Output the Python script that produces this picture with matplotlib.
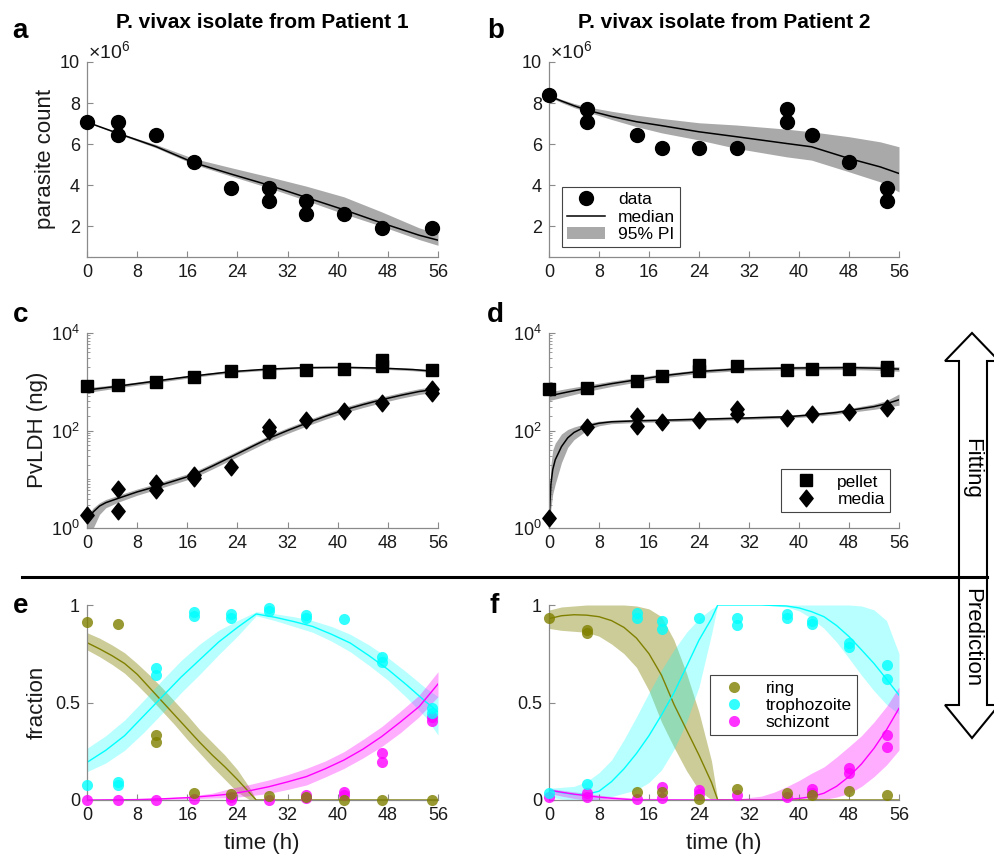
import matplotlib
matplotlib.use("Agg")
import matplotlib.pyplot as plt
from matplotlib.lines import Line2D
from matplotlib.patches import Patch, Polygon
from matplotlib.path import Path
import matplotlib.ticker as mticker
import numpy as np

plt.rcParams['font.family'] = ['Liberation Sans', 'DejaVu Sans']
plt.rcParams['mathtext.fontset'] = 'custom'
plt.rcParams['mathtext.rm'] = 'Liberation Sans'
plt.rcParams['mathtext.it'] = 'Liberation Sans:italic'
plt.rcParams['mathtext.bf'] = 'Liberation Sans:bold'

# ---------------- data ----------------
x_ticks = [0, 8, 16, 24, 32, 40, 48, 56]

# panel a (parasite count, x1e6)
a_t = [0, 5, 5, 11, 17, 23, 29, 29, 35, 35, 41, 47, 55]
a_y = [7.08, 7.08, 6.43, 6.43, 5.13, 3.86, 3.86, 3.21, 3.21, 2.6, 2.6, 1.92, 1.92]
a_fit_t = [0, 5, 11, 17, 23, 29, 35, 41, 47, 53, 56]
a_med = [7.07, 6.52, 5.88, 5.1, 4.54, 4.0, 3.4, 2.8, 2.16, 1.56, 1.32]
a_hi = [7.08, 6.56, 5.98, 5.3, 4.85, 4.41, 3.95, 3.43, 2.7, 1.92, 1.64]
a_lo = [7.05, 6.48, 5.82, 5.02, 4.44, 3.87, 3.25, 2.6, 2.0, 1.35, 1.07]

# panel b
b_t = [0, 6, 6, 14, 18, 24, 30, 38, 38, 42, 48, 54, 54]
b_y = [8.38, 7.73, 7.08, 6.43, 5.81, 5.81, 5.81, 7.73, 7.08, 6.43, 5.13, 3.86, 3.21]
b_fit_t = [0, 2, 4, 6, 10, 14, 18, 24, 30, 38, 42, 48, 53, 56]
b_med = [8.35, 8.1, 7.87, 7.66, 7.35, 7.09, 6.9, 6.6, 6.36, 6.03, 5.87, 5.3, 4.89, 4.57]
b_hi = [8.4, 8.18, 7.98, 7.82, 7.6, 7.41, 7.25, 7.04, 6.93, 6.73, 6.6, 6.36, 6.11, 5.87]
b_lo = [8.3, 8.02, 7.78, 7.58, 7.2, 6.85, 6.55, 6.2, 5.79, 5.38, 5.22, 4.65, 4.16, 3.67]

# panel c (PvLDH, ng)
c_pel_t = [0, 5, 11, 17, 23, 29, 29, 35, 41, 47, 47, 55]
c_pel_y = [820, 860, 1010, 1240, 1670, 1700, 1560, 1750, 1860, 2800, 2150, 1720]
c_med_t = [0, 5, 5, 11, 11, 17, 17, 23, 29, 29, 35, 41, 47, 55, 55]
c_med_y = [1.85, 6.2, 2.27, 8.5, 6.0, 12.3, 10.5, 18.2, 120, 98, 164, 250, 372, 700, 600]
c_pel_ft = [0, 5, 11, 17, 23, 29, 35, 41, 47, 52, 56]
c_pel_med = [676, 813, 1035, 1312, 1611, 1820, 1950, 1977, 1905, 1780, 1622]
c_pel_hi = [760, 880, 1110, 1400, 1700, 1900, 2030, 2060, 2000, 1880, 1720]
c_pel_lo = [600, 750, 960, 1230, 1520, 1730, 1870, 1890, 1810, 1680, 1520]
c_mft = [0, 1, 2, 3, 5, 8, 11, 14, 17, 20, 23, 26, 29, 32, 35, 38, 41, 44, 47, 50, 53, 56]
c_mmed = [1.45, 2.14, 2.82, 3.31, 4.07, 5.5, 7.08, 9.33, 12.3, 18.6, 28.8, 44.7, 69.2, 100,
          141, 195, 263, 339, 427, 525, 631, 708]
c_mhi = [1.75, 2.6, 3.3, 3.85, 4.7, 6.3, 8.1, 10.7, 14.1, 21.4, 33, 51, 79, 114, 161, 222,
         300, 386, 487, 598, 720, 807]
c_mlo = [0.6, 1.0, 1.9, 2.6, 3.4, 4.7, 6.15, 8.1, 10.7, 16.2, 25, 38.9, 60, 87, 123, 170,
         229, 295, 371, 457, 549, 616]

# panel d
d_pel_t = [0, 6, 14, 18, 24, 24, 30, 38, 42, 48, 54, 54]
d_pel_y = [703, 758, 1060, 1320, 2240, 1700, 2130, 1760, 1810, 1865, 2040, 1760]
d_med_t = [0, 6, 14, 14, 18, 24, 30, 30, 38, 42, 48, 54]
d_med_y = [1.6, 120, 200, 123, 152, 164, 280, 220, 182, 218, 245, 286]
d_pel_ft = [0, 3, 6, 10, 14, 18, 24, 30, 38, 42, 48, 52, 56]
d_pel_med = [513, 617, 735, 912, 1096, 1318, 1622, 1820, 1905, 1928, 1950, 1905, 1820]
d_pel_hi = [620, 730, 850, 1030, 1220, 1450, 1760, 1980, 2070, 2100, 2130, 2100, 2030]
d_pel_lo = [410, 510, 630, 800, 980, 1190, 1490, 1670, 1750, 1760, 1780, 1730, 1640]
d_mft = [0, 0.3, 0.6, 1, 2, 3, 4, 6, 8, 10, 14, 18, 24, 30, 38, 42, 46, 48, 50, 52, 54, 56]
d_mmed = [1.26, 7.9, 15.8, 25.1, 46.8, 70.8, 91.2, 123, 141, 151, 158, 162, 170, 178, 191,
          209, 234, 257, 282, 309, 355, 427]
d_mhi = [1.5, 20, 40, 55, 85, 105, 118, 140, 155, 163, 170, 174, 182, 190, 205, 225, 255,
         282, 315, 350, 410, 560]
d_mlo = [1.0, 2.5, 5, 8, 22, 45, 65, 100, 125, 138, 146, 150, 158, 166, 178, 194, 215, 234,
         252, 272, 300, 330]

# panel e (stage fractions, patient 1)
e_ring_t = [0, 5, 11, 11, 17, 23, 29, 35, 41, 47, 55]
e_ring_y = [0.913, 0.903, 0.333, 0.299, 0.038, 0.031, 0.02, 0.017, 0.0, 0.0, 0.0]
e_tro_t = [0, 5, 5, 11, 11, 17, 17, 23, 23, 29, 29, 35, 35, 41, 47, 47, 55, 55]
e_tro_y = [0.075, 0.094, 0.077, 0.675, 0.641, 0.962, 0.944, 0.954, 0.932, 0.983, 0.971,
           0.949, 0.932, 0.928, 0.735, 0.709, 0.47, 0.444]
e_sch_t = [0, 5, 11, 17, 23, 23, 29, 35, 35, 41, 41, 47, 47, 55, 55]
e_sch_y = [0.0, 0.0, 0.0, 0.003, 0.017, 0.0, 0.0, 0.026, 0.009, 0.043, 0.026, 0.239, 0.193,
           0.427, 0.407]
e_ring_ft = [0, 2, 4, 6, 8, 10, 12, 14, 16, 18, 20, 22, 24, 26, 27, 56]
e_ring_med = [0.807, 0.775, 0.74, 0.70, 0.645, 0.575, 0.505, 0.435, 0.365, 0.295, 0.23, 0.17,
              0.105, 0.035, 0.0, 0.0]
e_ring_hi = [0.858, 0.83, 0.795, 0.755, 0.70, 0.64, 0.575, 0.505, 0.435, 0.36, 0.295, 0.23,
             0.155, 0.06, 0.0, 0.0]
e_ring_lo = [0.77, 0.735, 0.695, 0.65, 0.59, 0.525, 0.455, 0.385, 0.31, 0.24, 0.17, 0.105,
             0.04, 0.0, 0.0, 0.0]
e_tro_ft = [0, 3, 6, 9, 12, 15, 18, 21, 24, 27, 30, 33, 36, 39, 42, 45, 48, 51, 54, 56]
e_tro_med = [0.193, 0.255, 0.33, 0.43, 0.53, 0.63, 0.72, 0.81, 0.885, 0.954, 0.937, 0.915,
             0.89, 0.85, 0.805, 0.74, 0.67, 0.59, 0.505, 0.453]
e_tro_hi = [0.265, 0.33, 0.41, 0.51, 0.615, 0.715, 0.80, 0.87, 0.92, 0.966, 0.955, 0.94, 0.92,
            0.89, 0.85, 0.795, 0.73, 0.655, 0.575, 0.53]
e_tro_lo = [0.145, 0.19, 0.255, 0.345, 0.445, 0.55, 0.645, 0.745, 0.84, 0.945, 0.92, 0.89,
            0.86, 0.815, 0.76, 0.69, 0.615, 0.525, 0.425, 0.333]
e_sch_ft = [0, 8, 12, 16, 20, 23, 26, 29, 32, 35, 38, 41, 44, 47, 50, 53, 56]
e_sch_med = [0.0, 0.002, 0.006, 0.012, 0.022, 0.031, 0.048, 0.068, 0.093, 0.12, 0.16, 0.205,
             0.26, 0.325, 0.40, 0.479, 0.595]
e_sch_hi = [0.0, 0.004, 0.01, 0.018, 0.035, 0.06, 0.08, 0.103, 0.13, 0.162, 0.2, 0.248, 0.31,
            0.376, 0.455, 0.538, 0.658]
e_sch_lo = [0.0, 0.0, 0.002, 0.005, 0.01, 0.012, 0.022, 0.034, 0.054, 0.077, 0.118, 0.162,
            0.215, 0.274, 0.345, 0.427, 0.53]

# panel f (stage fractions, patient 2)
f_ring_t = [0, 6, 6, 14, 18, 24, 30, 38, 42, 48, 54]
f_ring_y = [0.932, 0.872, 0.855, 0.043, 0.043, 0.003, 0.055, 0.038, 0.026, 0.046, 0.026]
f_tro_t = [0, 6, 14, 14, 18, 18, 24, 30, 30, 38, 38, 42, 42, 48, 48, 54, 54]
f_tro_y = [0.038, 0.082, 0.957, 0.932, 0.92, 0.875, 0.932, 0.932, 0.897, 0.954, 0.932, 0.92,
           0.903, 0.803, 0.786, 0.692, 0.62]
f_sch_t = [0, 6, 6, 14, 18, 18, 24, 24, 30, 38, 42, 42, 48, 48, 54, 54]
f_sch_y = [0.014, 0.038, 0.017, 0.003, 0.065, 0.009, 0.051, 0.031, 0.026, 0.014, 0.055, 0.034,
           0.162, 0.14, 0.333, 0.274]
f_ring_ft = [0, 2, 4, 6, 8, 10, 12, 14, 16, 18, 20, 22, 24, 26, 27, 56]
f_ring_med = [0.93, 0.945, 0.95, 0.948, 0.94, 0.92, 0.885, 0.83, 0.75, 0.64, 0.49, 0.36, 0.23,
              0.09, 0.0, 0.0]
f_ring_hi = [0.974, 0.99, 0.995, 1.0, 1.0, 1.0, 1.0, 0.995, 0.98, 0.94, 0.82, 0.65, 0.45, 0.2,
             0.0, 0.0]
f_ring_lo = [0.88, 0.87, 0.865, 0.86, 0.84, 0.80, 0.75, 0.68, 0.56, 0.40, 0.27, 0.15, 0.05, 0.0,
             0.0, 0.0]
f_tro_ft = [0, 2, 4, 6, 8, 10, 12, 14, 16, 18, 20, 22, 24, 26, 27, 30, 34, 38, 40, 42, 44, 46,
            48, 50, 52, 54, 56]
f_tro_med = [0.051, 0.038, 0.028, 0.029, 0.045, 0.094, 0.16, 0.239, 0.33, 0.436, 0.55, 0.684,
             0.82, 0.93, 1.0, 1.0, 1.0, 0.995, 0.985, 0.966, 0.94, 0.895, 0.838, 0.77, 0.70,
             0.62, 0.538]
f_tro_hi = [0.06, 0.065, 0.07, 0.094, 0.14, 0.205, 0.31, 0.427, 0.55, 0.667, 0.77, 0.86, 0.93,
            0.98, 1.0, 1.0, 1.0, 1.0, 1.0, 1.0, 1.0, 1.0, 1.0, 0.995, 0.975, 0.92, 0.75]
f_tro_lo = [0.017, 0.005, 0.0, 0.0, 0.003, 0.017, 0.035, 0.051, 0.09, 0.154, 0.26, 0.4, 0.58,
            0.85, 1.0, 1.0, 1.0, 0.99, 0.97, 0.932, 0.88, 0.81, 0.726, 0.64, 0.56, 0.49, 0.44]
f_sch_ft = [0, 2, 4, 6, 8, 10, 14, 36, 38, 40, 42, 44, 46, 48, 50, 52, 54, 56]
f_sch_med = [0.051, 0.04, 0.03, 0.022, 0.015, 0.009, 0.0, 0.0, 0.003, 0.008, 0.017, 0.035, 0.07,
             0.12, 0.185, 0.265, 0.36, 0.47]
f_sch_hft = [0, 2, 4, 6, 8, 10, 14, 30, 34, 36, 38, 40, 42, 44, 46, 48, 50, 52, 54, 56]
f_sch_hi = [0.06, 0.05, 0.042, 0.034, 0.025, 0.018, 0.009, 0.005, 0.02, 0.04, 0.068, 0.1, 0.137,
            0.17, 0.22, 0.274, 0.33, 0.40, 0.48, 0.58]
f_sch_lft = [0, 2, 4, 6, 14, 44, 46, 48, 50, 52, 54, 56]
f_sch_lo = [0.034, 0.02, 0.008, 0.0, 0.0, 0.003, 0.015, 0.034, 0.07, 0.12, 0.18, 0.256]

titles = ["P. vivax isolate from Patient 1", "P. vivax isolate from Patient 2"]
stage_names = ["ring", "trophozoite", "schizont"]

# ---------------- styling ----------------
W, H = 994, 856
fig = plt.figure(figsize=(W / 100, H / 100), dpi=100)

GRAY = '#a9a9a9'
SPINE = '#8a8a8a'
TXT = '#1a1a1a'
OLIVE, CYAN, MAG = '#808000', '#00ffff', '#ff00ff'
TICK_FS, LAB_FS, LEG_FS = 13, 16, 12.5


def px(x, y):
    return x / W, 1 - y / H


def make_ax(l, t, r, b):
    ax = fig.add_axes([l / W, 1 - b / H, (r - l) / W, (b - t) / H])
    for s in ['top', 'right']:
        ax.spines[s].set_visible(False)
    for s in ['left', 'bottom']:
        ax.spines[s].set_color(SPINE)
        ax.spines[s].set_linewidth(0.9)
    ax.tick_params(direction='in', length=4, width=0.8, color=SPINE,
                   labelsize=TICK_FS, labelcolor=TXT, pad=5)
    ax.tick_params(which='minor', direction='in', length=2, width=0.6, color=SPINE)
    ax.set_xlim(0, 56)
    ax.set_xticks(x_ticks)
    return ax


diamond = Path([(0, 1), (0.8, 0), (0, -1), (-0.8, 0), (0, 1)],
               [Path.MOVETO, Path.LINETO, Path.LINETO, Path.LINETO, Path.CLOSEPOLY])


def legend(ax, handles, labels, **kw):
    leg = ax.legend(handles, labels, fontsize=LEG_FS, fancybox=False, framealpha=1,
                    edgecolor='#444444', handlelength=2.2, handletextpad=0.72,
                    labelspacing=0.12, borderpad=0.3, **kw)
    leg.get_frame().set_linewidth(0.8)
    return leg


# ---- a, b ----
for (l, r), t, y, ft, med, hi, lo, title, letter in [
        ((87, 438), a_t, a_y, a_fit_t, a_med, a_hi, a_lo, titles[0], 'a'),
        ((549, 899), b_t, b_y, b_fit_t, b_med, b_hi, b_lo, titles[1], 'b')]:
    ax = make_ax(l, 62, r, 257)
    ax.set_ylim(0.5, 10)
    ax.set_yticks([2, 4, 6, 8, 10])
    ax.fill_between(ft, lo, hi, color=GRAY, lw=0, zorder=1)
    ax.plot(ft, med, color='k', lw=1.1, zorder=2)
    ax.plot(t, y, 'o', color='k', ms=10, clip_on=False, zorder=3)
    fig.text(*px(l + 1, 58), r'$\times10^{6}$', fontsize=14, color=TXT, ha='left',
             va='baseline')
    fig.text(*px((l + r) / 2, 22), title, fontsize=15, fontweight='bold', ha='center',
             va='center')
    fig.text(*px(l - 75 if letter == 'a' else l - 62, 38), letter, fontsize=20,
             fontweight='bold', ha='left', va='baseline')
    if letter == 'b':
        handles = [Line2D([], [], marker='o', color='k', ls='none', ms=10),
                   Line2D([], [], color='k', lw=1.1),
                   Patch(facecolor=GRAY, edgecolor='none')]
        legend(ax, handles, ['data', 'median', '95% PI'], loc='lower left',
               bbox_to_anchor=(0.037, 0.051), borderaxespad=0)
fig.text(*px(45, 159), 'parasite count', fontsize=LAB_FS, rotation=90, ha='center',
         va='center', color=TXT)

# ---- c, d ----
for (l, r), pt, py, mt, my, pft, pmed, phi, plo, mft, mmed, mhi, mlo, letter in [
        ((87, 438), c_pel_t, c_pel_y, c_med_t, c_med_y, c_pel_ft, c_pel_med, c_pel_hi,
         c_pel_lo, c_mft, c_mmed, c_mhi, c_mlo, 'c'),
        ((549, 899), d_pel_t, d_pel_y, d_med_t, d_med_y, d_pel_ft, d_pel_med, d_pel_hi,
         d_pel_lo, d_mft, d_mmed, d_mhi, d_mlo, 'd')]:
    ax = make_ax(l, 333, r, 528)
    ax.set_yscale('log')
    ax.set_ylim(1, 1e4)
    ax.yaxis.set_major_locator(mticker.FixedLocator([1, 1e2, 1e4]))
    ax.yaxis.set_major_formatter(mticker.FixedFormatter([r'$10^{0}$', r'$10^{2}$',
                                                         r'$10^{4}$']))
    ax.yaxis.set_minor_locator(mticker.LogLocator(base=10, subs=[1, 2, 3, 4, 5, 6, 7, 8, 9],
                                                  numticks=20))
    ax.yaxis.set_minor_formatter(mticker.NullFormatter())
    ax.fill_between(pft, plo, phi, color=GRAY, lw=0, zorder=1)
    ax.fill_between(mft, mlo, mhi, color=GRAY, lw=0, zorder=1)
    ax.plot(pft, pmed, color='k', lw=1.1, zorder=2)
    ax.plot(mft, mmed, color='k', lw=1.1, zorder=2)
    ax.plot(pt, py, 's', color='k', ms=8.5, clip_on=False, zorder=3)
    ax.plot(mt, my, marker=diamond, ls='none', color='k', ms=12, clip_on=False, zorder=3)
    fig.text(*px(l - 74 if letter == 'c' else l - 62, 322), letter, fontsize=20,
             fontweight='bold', ha='left', va='baseline')
    if letter == 'd':
        handles = [Line2D([], [], marker='s', color='k', ls='none', ms=8.5),
                   Line2D([], [], marker=diamond, color='k', ls='none', ms=12)]
        legend(ax, handles, ['pellet', 'media'], loc='lower right',
               bbox_to_anchor=(0.974, 0.082), borderaxespad=0)
fig.text(*px(38, 430), 'PvLDH (ng)', fontsize=LAB_FS, rotation=90, ha='center',
         va='center', color=TXT)

# ---- e, f ----
panels_ef = [
    ((87, 438), 'e',
     [(e_ring_ft, e_ring_med, e_ring_ft, e_ring_hi, e_ring_ft, e_ring_lo, e_ring_t, e_ring_y,
       OLIVE, 0.4),
      (e_tro_ft, e_tro_med, e_tro_ft, e_tro_hi, e_tro_ft, e_tro_lo, e_tro_t, e_tro_y, CYAN, 0.28),
      (e_sch_ft, e_sch_med, e_sch_ft, e_sch_hi, e_sch_ft, e_sch_lo, e_sch_t, e_sch_y, MAG, 0.32)]),
    ((549, 899), 'f',
     [(f_ring_ft, f_ring_med, f_ring_ft, f_ring_hi, f_ring_ft, f_ring_lo, f_ring_t, f_ring_y,
       OLIVE, 0.4),
      (f_tro_ft, f_tro_med, f_tro_ft, f_tro_hi, f_tro_ft, f_tro_lo, f_tro_t, f_tro_y, CYAN, 0.28),
      (f_sch_ft, f_sch_med, f_sch_hft, f_sch_hi, f_sch_lft, f_sch_lo, f_sch_t, f_sch_y, MAG, 0.32)])]

for (l, r), letter, series in panels_ef:
    ax = make_ax(l, 605, r, 800)
    ax.set_ylim(0, 1)
    ax.set_yticks([0, 0.5, 1])
    ax.set_yticklabels(['0', '0.5', '1'])
    for ft, med, hft, hi, lft, lo, t, y, col, alp in series:
        grid = np.union1d(np.union1d(hft, lft), ft)
        ax.fill_between(grid, np.interp(grid, lft, lo), np.interp(grid, hft, hi),
                        color=col, alpha=alp, lw=0, zorder=1)
    for ft, med, hft, hi, lft, lo, t, y, col, alp in series:
        ax.plot(ft, med, color=col, lw=1.0, zorder=2)
    handles = []
    for z, (ft, med, hft, hi, lft, lo, t, y, col, alp) in zip([5, 4, 3], series):
        ax.plot(t, y, 'o', color=col, ms=8, alpha=0.8, mec='none', clip_on=False, zorder=z)
        handles.append(Line2D([], [], marker='o', color=col, alpha=0.8, mec='none',
                              ls='none', ms=8))
    fig.text(*px(l + 175, 843), 'time (h)', fontsize=LAB_FS, ha='center', va='center',
             color=TXT)
    fig.text(*px(l - 74 if letter == 'e' else l - 59, 613), letter, fontsize=20,
             fontweight='bold', ha='left', va='baseline')
    if letter == 'f':
        legend(ax, handles, stage_names, loc='center', bbox_to_anchor=(0.67, 0.485))
fig.text(*px(37, 702), 'fraction', fontsize=LAB_FS, rotation=90, ha='center', va='center',
         color=TXT)

# ---- separator and fitting/prediction arrow ----
arrow_pts = [(972, 333), (999, 361), (987, 361), (987, 705), (999, 705), (972, 738),
             (945, 705), (959, 705), (959, 361), (945, 361)]
fig.patches.append(Polygon([px(x, y) for x, y in arrow_pts], closed=True,
                           transform=fig.transFigure, facecolor='white', edgecolor='k',
                           lw=1.5, zorder=5))
fig.add_artist(Line2D([22 / W, 987 / W], [1 - 577 / H, 1 - 577 / H], color='k', lw=2.2,
                      transform=fig.transFigure, zorder=6))
fig.text(*px(972, 468), 'Fitting', fontsize=16, rotation=-90, ha='center', va='center',
         zorder=7)
fig.text(*px(972, 638), 'Prediction', fontsize=16, rotation=-90, ha='center', va='center',
         zorder=7)

fig.savefig('out.png', dpi=100)
